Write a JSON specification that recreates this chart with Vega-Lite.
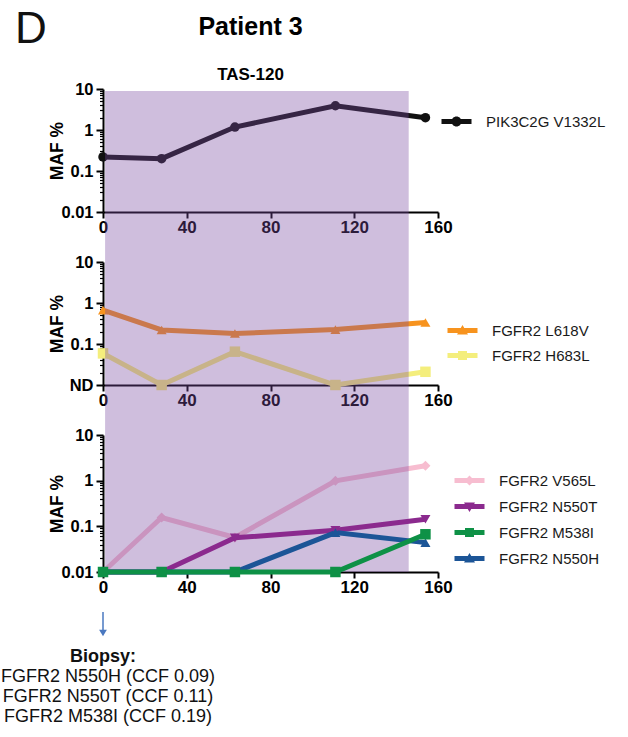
{
  "$schema": "https://vega.github.io/schema/vega-lite/v6.json",
  "padding": {"left": 0, "top": 8, "right": 5, "bottom": 5},
  "title": {"text": "D", "anchor": "start", "frame": "bounds", "fontSize": 44, "fontWeight": "normal", "font": "Liberation Sans", "color": "#111111", "offset": -37, "dx": 14},
  "datasets": {
    "muts": [
      {"panel": 1, "mutation": "PIK3C2G V1332L", "day": 0, "maf": 0.22},
      {"panel": 1, "mutation": "PIK3C2G V1332L", "day": 28, "maf": 0.2},
      {"panel": 1, "mutation": "PIK3C2G V1332L", "day": 63, "maf": 1.18},
      {"panel": 1, "mutation": "PIK3C2G V1332L", "day": 111, "maf": 3.9},
      {"panel": 1, "mutation": "PIK3C2G V1332L", "day": 154, "maf": 2.0},
      {"panel": 2, "mutation": "FGFR2 H683L", "day": 0, "maf": 0.059},
      {"panel": 2, "mutation": "FGFR2 H683L", "day": 28, "maf": 0.01},
      {"panel": 2, "mutation": "FGFR2 H683L", "day": 63, "maf": 0.065},
      {"panel": 2, "mutation": "FGFR2 H683L", "day": 111, "maf": 0.01},
      {"panel": 2, "mutation": "FGFR2 H683L", "day": 154, "maf": 0.021},
      {"panel": 2, "mutation": "FGFR2 L618V", "day": 0, "maf": 0.67},
      {"panel": 2, "mutation": "FGFR2 L618V", "day": 28, "maf": 0.22},
      {"panel": 2, "mutation": "FGFR2 L618V", "day": 63, "maf": 0.18},
      {"panel": 2, "mutation": "FGFR2 L618V", "day": 111, "maf": 0.225},
      {"panel": 2, "mutation": "FGFR2 L618V", "day": 154, "maf": 0.335},
      {"panel": 3, "mutation": "FGFR2 V565L", "day": 0, "maf": 0.01},
      {"panel": 3, "mutation": "FGFR2 V565L", "day": 28, "maf": 0.156},
      {"panel": 3, "mutation": "FGFR2 V565L", "day": 63, "maf": 0.057},
      {"panel": 3, "mutation": "FGFR2 V565L", "day": 111, "maf": 0.99},
      {"panel": 3, "mutation": "FGFR2 V565L", "day": 154, "maf": 2.12},
      {"panel": 3, "mutation": "FGFR2 N550T", "day": 0, "maf": 0.01},
      {"panel": 3, "mutation": "FGFR2 N550T", "day": 28, "maf": 0.01},
      {"panel": 3, "mutation": "FGFR2 N550T", "day": 63, "maf": 0.056},
      {"panel": 3, "mutation": "FGFR2 N550T", "day": 111, "maf": 0.082},
      {"panel": 3, "mutation": "FGFR2 N550T", "day": 154, "maf": 0.143},
      {"panel": 3, "mutation": "FGFR2 N550H", "day": 0, "maf": 0.01},
      {"panel": 3, "mutation": "FGFR2 N550H", "day": 28, "maf": 0.01},
      {"panel": 3, "mutation": "FGFR2 N550H", "day": 63, "maf": 0.01},
      {"panel": 3, "mutation": "FGFR2 N550H", "day": 111, "maf": 0.073},
      {"panel": 3, "mutation": "FGFR2 N550H", "day": 154, "maf": 0.044},
      {"panel": 3, "mutation": "FGFR2 M538I", "day": 0, "maf": 0.01},
      {"panel": 3, "mutation": "FGFR2 M538I", "day": 28, "maf": 0.01},
      {"panel": 3, "mutation": "FGFR2 M538I", "day": 63, "maf": 0.01},
      {"panel": 3, "mutation": "FGFR2 M538I", "day": 111, "maf": 0.01},
      {"panel": 3, "mutation": "FGFR2 M538I", "day": 154, "maf": 0.067}
    ],
    "band": [{"start": 1, "end": 146}],
    "biopsy": [{"day": 0}]
  },
  "spacing": 50,
  "bounds": "flush",
  "resolve": {
    "scale": {"color": "independent", "x": "independent", "y": "independent"},
    "legend": {"color": "independent"}
  },
  "vconcat": [
    {
      "width": 335, "height": 123,
      "title": {"text": "Patient 3", "subtitle": "TAS-120", "fontSize": 25, "font": "Liberation Sans", "fontWeight": "bold", "color": "#000000", "subtitleFont": "Liberation Sans", "subtitleFontSize": 17, "subtitleFontWeight": "bold", "subtitleColor": "#000000", "subtitlePadding": 27, "offset": -2, "anchor": "middle", "dx": -20},
      "layer": [
        {
          "data": {"name": "muts"}, "transform": [{"filter": "datum.panel == 1"}],
          "mark": {"type": "line", "strokeWidth": 5},
          "encoding": {
            "x": {"field": "day", "type": "quantitative", "scale": {"domain": [0, 160], "nice": false}, "axis": {"title": null, "values": [0, 40, 80, 120, 160]}},
            "y": {"field": "maf", "type": "quantitative", "scale": {"type": "log", "domain": [0.01, 10], "nice": false},
              "axis": {"title": "MAF %", "titleX": -46, "titleBaseline": "middle",
                "values": [0.01,0.02,0.03,0.04,0.05,0.06,0.07,0.08,0.09,0.1,0.2,0.3,0.4,0.5,0.6,0.7,0.8,0.9,1,2,3,4,5,6,7,8,9,10],
                "labelExpr": "datum.value == 10 ? '10' : datum.value == 1 ? '1' : datum.value == 0.1 ? '0.1' : datum.value == 0.01 ? '0.01' : ''",
                "labelOverlap": false, "labelBound": false,
                "tickSize": {"condition": {"test": "indexof([0.01,0.1,1,10], datum.value) >= 0", "value": 7}, "value": 3.5},
                "tickWidth": {"condition": {"test": "indexof([0.01,0.1,1,10], datum.value) >= 0", "value": 2}, "value": 1.2}}},
            "color": {"field": "mutation", "type": "nominal", "scale": {"domain": ["PIK3C2G V1332L"], "range": ["#111111"]},
              "legend": {"title": null, "orient": "none", "legendX": 346, "legendY": 25, "padding": 0, "labelFont": "Liberation Sans", "labelFontSize": 15, "labelColor": "#1a1a1a", "labelOffset": 22, "rowPadding": 9, "symbolSize": 100, "symbolStrokeWidth": 0,
                "encode": {"symbols": {"update": {
                  "shape": {"signal": "datum.value == 'PIK3C2G V1332L' ? 'M-3,-0.5H3V0.5H-3Z M-1,0A1,1 0 0,1 1,0A1,1 0 0,1 -1,0Z' : (datum.value == 'FGFR2 L618V' || datum.value == 'FGFR2 N550H') ? 'M-3,-0.5H3V0.5H-3Z M0,-1.1L1.1,0.8L-1.1,0.8Z' : (datum.value == 'FGFR2 H683L' || datum.value == 'FGFR2 M538I') ? 'M-3,-0.5H3V0.5H-3Z M-0.9,-0.9H0.9V0.9H-0.9Z' : datum.value == 'FGFR2 N550T' ? 'M-3,-0.5H3V0.5H-3Z M-1.1,-0.8L1.1,-0.8L0,1.1Z' : 'M-3,-0.5H3V0.5H-3Z M0,-1L1,0L0,1L-1,0Z'"},
                  "fill": {"signal": "datum.value == 'PIK3C2G V1332L' ? '#111111' : datum.value == 'FGFR2 L618V' ? '#f7931e' : datum.value == 'FGFR2 H683L' ? '#f4ee7c' : datum.value == 'FGFR2 V565L' ? '#f7bdd0' : datum.value == 'FGFR2 N550T' ? '#8b2a8e' : datum.value == 'FGFR2 M538I' ? '#0e9146' : '#1c5597'"},
                  "strokeWidth": {"value": 0}, "opacity": {"value": 1}, "size": {"value": 100}}}}}}
          }
        },
        {
          "data": {"name": "muts"}, "transform": [{"filter": "datum.panel == 1"}],
          "mark": {"type": "point", "shape": "circle", "filled": true, "size": 90, "opacity": 1, "strokeWidth": 0},
          "encoding": {
            "x": {"field": "day", "type": "quantitative", "scale": {"domain": [0, 160], "nice": false}},
            "y": {"field": "maf", "type": "quantitative", "scale": {"type": "log", "domain": [0.01, 10], "nice": false}},
            "color": {"field": "mutation", "type": "nominal", "scale": {"domain": ["PIK3C2G V1332L"], "range": ["#111111"]}, "legend": null}
          }
        },
        {
          "data": {"name": "band"},
          "mark": {"type": "rect", "color": "#7a4ba1", "opacity": 0.36},
          "encoding": {
            "x": {"field": "start", "type": "quantitative", "scale": {"domain": [0, 160], "nice": false}},
            "x2": {"field": "end"},
            "y": {"datum": 9, "type": "quantitative", "scale": {"type": "log", "domain": [0.01, 10], "nice": false}},
            "y2": {"datum": 0.0006033}
          }
        }
      ]
    },
    {
      "width": 335, "height": 123,
      "layer": [
        {
          "data": {"name": "muts"}, "transform": [{"filter": "datum.panel == 2"}],
          "mark": {"type": "line", "strokeWidth": 5},
          "encoding": {
            "x": {"field": "day", "type": "quantitative", "scale": {"domain": [0, 160], "nice": false}, "axis": {"title": null, "values": [0, 40, 80, 120, 160]}},
            "y": {"field": "maf", "type": "quantitative", "scale": {"type": "log", "domain": [0.01, 10], "nice": false},
              "axis": {"title": "MAF %", "titleX": -46, "titleBaseline": "middle",
                "values": [0.01,0.02,0.03,0.04,0.05,0.06,0.07,0.08,0.09,0.1,0.2,0.3,0.4,0.5,0.6,0.7,0.8,0.9,1,2,3,4,5,6,7,8,9,10],
                "labelExpr": "datum.value == 10 ? '10' : datum.value == 1 ? '1' : datum.value == 0.1 ? '0.1' : datum.value == 0.01 ? 'ND' : ''",
                "labelOverlap": false, "labelBound": false,
                "tickSize": {"condition": {"test": "indexof([0.01,0.1,1,10], datum.value) >= 0", "value": 7}, "value": 3.5},
                "tickWidth": {"condition": {"test": "indexof([0.01,0.1,1,10], datum.value) >= 0", "value": 2}, "value": 1.2}}},
            "color": {"field": "mutation", "type": "nominal", "scale": {"domain": ["FGFR2 L618V", "FGFR2 H683L"], "range": ["#f7931e", "#f4ee7c"]},
              "legend": {"title": null, "orient": "none", "legendX": 352, "legendY": 61, "padding": 0, "labelFont": "Liberation Sans", "labelFontSize": 15, "labelColor": "#1a1a1a", "labelOffset": 22, "rowPadding": 9, "symbolSize": 100, "symbolStrokeWidth": 0,
                "encode": {"symbols": {"update": {
                  "shape": {"signal": "datum.value == 'PIK3C2G V1332L' ? 'M-3,-0.5H3V0.5H-3Z M-1,0A1,1 0 0,1 1,0A1,1 0 0,1 -1,0Z' : (datum.value == 'FGFR2 L618V' || datum.value == 'FGFR2 N550H') ? 'M-3,-0.5H3V0.5H-3Z M0,-1.1L1.1,0.8L-1.1,0.8Z' : (datum.value == 'FGFR2 H683L' || datum.value == 'FGFR2 M538I') ? 'M-3,-0.5H3V0.5H-3Z M-0.9,-0.9H0.9V0.9H-0.9Z' : datum.value == 'FGFR2 N550T' ? 'M-3,-0.5H3V0.5H-3Z M-1.1,-0.8L1.1,-0.8L0,1.1Z' : 'M-3,-0.5H3V0.5H-3Z M0,-1L1,0L0,1L-1,0Z'"},
                  "fill": {"signal": "datum.value == 'PIK3C2G V1332L' ? '#111111' : datum.value == 'FGFR2 L618V' ? '#f7931e' : datum.value == 'FGFR2 H683L' ? '#f4ee7c' : datum.value == 'FGFR2 V565L' ? '#f7bdd0' : datum.value == 'FGFR2 N550T' ? '#8b2a8e' : datum.value == 'FGFR2 M538I' ? '#0e9146' : '#1c5597'"},
                  "strokeWidth": {"value": 0}, "opacity": {"value": 1}, "size": {"value": 100}}}}}}
          }
        },
        {
          "data": {"name": "muts"}, "transform": [{"filter": "datum.mutation == 'FGFR2 L618V'"}],
          "mark": {"type": "point", "shape": "triangle-up", "filled": true, "size": 100, "opacity": 1, "strokeWidth": 0},
          "encoding": {
            "x": {"field": "day", "type": "quantitative", "scale": {"domain": [0, 160], "nice": false}},
            "y": {"field": "maf", "type": "quantitative", "scale": {"type": "log", "domain": [0.01, 10], "nice": false}},
            "color": {"field": "mutation", "type": "nominal", "scale": {"domain": ["FGFR2 L618V", "FGFR2 H683L"], "range": ["#f7931e", "#f4ee7c"]}, "legend": null}
          }
        },
        {
          "data": {"name": "muts"}, "transform": [{"filter": "datum.mutation == 'FGFR2 H683L'"}],
          "mark": {"type": "point", "shape": "square", "filled": true, "size": 110, "opacity": 1, "strokeWidth": 0},
          "encoding": {
            "x": {"field": "day", "type": "quantitative", "scale": {"domain": [0, 160], "nice": false}},
            "y": {"field": "maf", "type": "quantitative", "scale": {"type": "log", "domain": [0.01, 10], "nice": false}},
            "color": {"field": "mutation", "type": "nominal", "scale": {"domain": ["FGFR2 L618V", "FGFR2 H683L"], "range": ["#f7931e", "#f4ee7c"]}, "legend": null}
          }
        },
        {
          "data": {"name": "band"},
          "mark": {"type": "rect", "color": "#7a4ba1", "opacity": 0.36},
          "encoding": {
            "x": {"field": "start", "type": "quantitative", "scale": {"domain": [0, 160], "nice": false}},
            "x2": {"field": "end"},
            "y": {"datum": 10, "type": "quantitative", "scale": {"type": "log", "domain": [0.01, 10], "nice": false}},
            "y2": {"datum": 0.0006033}
          }
        }
      ]
    },
    {
      "width": 335, "height": 137,
      "layer": [
        {
          "data": {"name": "muts"}, "transform": [{"filter": "datum.mutation == 'FGFR2 V565L'"}],
          "mark": {"type": "line", "strokeWidth": 5},
          "encoding": {
            "x": {"field": "day", "type": "quantitative", "scale": {"domain": [0, 160], "nice": false}, "axis": {"title": null, "values": [0, 40, 80, 120, 160]}},
            "y": {"field": "maf", "type": "quantitative", "scale": {"type": "log", "domain": [0.01, 10], "nice": false},
              "axis": {"title": "MAF %", "titleX": -46, "titleBaseline": "middle",
                "values": [0.01,0.02,0.03,0.04,0.05,0.06,0.07,0.08,0.09,0.1,0.2,0.3,0.4,0.5,0.6,0.7,0.8,0.9,1,2,3,4,5,6,7,8,9,10],
                "labelExpr": "datum.value == 10 ? '10' : datum.value == 1 ? '1' : datum.value == 0.1 ? '0.1' : datum.value == 0.01 ? '0.01' : ''",
                "labelOverlap": false, "labelBound": false,
                "tickSize": {"condition": {"test": "indexof([0.01,0.1,1,10], datum.value) >= 0", "value": 7}, "value": 3.5},
                "tickWidth": {"condition": {"test": "indexof([0.01,0.1,1,10], datum.value) >= 0", "value": 2}, "value": 1.2}}},
            "color": {"field": "mutation", "type": "nominal", "scale": {"domain": ["FGFR2 V565L", "FGFR2 N550T", "FGFR2 M538I", "FGFR2 N550H"], "range": ["#f7bdd0", "#8b2a8e", "#0e9146", "#1c5597"]},
              "legend": {"title": null, "orient": "none", "legendX": 359, "legendY": 38, "padding": 0, "labelFont": "Liberation Sans", "labelFontSize": 15, "labelColor": "#1a1a1a", "labelOffset": 22, "rowPadding": 10, "symbolSize": 100, "symbolStrokeWidth": 0,
                "encode": {"symbols": {"update": {
                  "shape": {"signal": "datum.value == 'PIK3C2G V1332L' ? 'M-3,-0.5H3V0.5H-3Z M-1,0A1,1 0 0,1 1,0A1,1 0 0,1 -1,0Z' : (datum.value == 'FGFR2 L618V' || datum.value == 'FGFR2 N550H') ? 'M-3,-0.5H3V0.5H-3Z M0,-1.1L1.1,0.8L-1.1,0.8Z' : (datum.value == 'FGFR2 H683L' || datum.value == 'FGFR2 M538I') ? 'M-3,-0.5H3V0.5H-3Z M-0.9,-0.9H0.9V0.9H-0.9Z' : datum.value == 'FGFR2 N550T' ? 'M-3,-0.5H3V0.5H-3Z M-1.1,-0.8L1.1,-0.8L0,1.1Z' : 'M-3,-0.5H3V0.5H-3Z M0,-1L1,0L0,1L-1,0Z'"},
                  "fill": {"signal": "datum.value == 'PIK3C2G V1332L' ? '#111111' : datum.value == 'FGFR2 L618V' ? '#f7931e' : datum.value == 'FGFR2 H683L' ? '#f4ee7c' : datum.value == 'FGFR2 V565L' ? '#f7bdd0' : datum.value == 'FGFR2 N550T' ? '#8b2a8e' : datum.value == 'FGFR2 M538I' ? '#0e9146' : '#1c5597'"},
                  "strokeWidth": {"value": 0}, "opacity": {"value": 1}, "size": {"value": 100}}}}}}
          }
        },
        {
          "data": {"name": "muts"}, "transform": [{"filter": "datum.mutation == 'FGFR2 V565L'"}],
          "mark": {"type": "point", "shape": "diamond", "filled": true, "size": 100, "opacity": 1, "strokeWidth": 0},
          "encoding": {
            "x": {"field": "day", "type": "quantitative", "scale": {"domain": [0, 160], "nice": false}},
            "y": {"field": "maf", "type": "quantitative", "scale": {"type": "log", "domain": [0.01, 10], "nice": false}},
            "color": {"field": "mutation", "type": "nominal", "scale": {"domain": ["FGFR2 V565L", "FGFR2 N550T", "FGFR2 M538I", "FGFR2 N550H"], "range": ["#f7bdd0", "#8b2a8e", "#0e9146", "#1c5597"]}, "legend": null}
          }
        },
        {
          "data": {"name": "band"},
          "mark": {"type": "rect", "color": "#7a4ba1", "opacity": 0.36},
          "encoding": {
            "x": {"field": "start", "type": "quantitative", "scale": {"domain": [0, 160], "nice": false}},
            "x2": {"field": "end"},
            "y": {"datum": 10, "type": "quantitative", "scale": {"type": "log", "domain": [0.01, 10], "nice": false}},
            "y2": {"datum": 0.01}
          }
        },
        {
          "data": {"name": "muts"}, "transform": [{"filter": "datum.panel == 3 && datum.mutation != 'FGFR2 V565L'"}],
          "mark": {"type": "line", "strokeWidth": 5},
          "encoding": {
            "x": {"field": "day", "type": "quantitative", "scale": {"domain": [0, 160], "nice": false}},
            "y": {"field": "maf", "type": "quantitative", "scale": {"type": "log", "domain": [0.01, 10], "nice": false}},
            "color": {"field": "mutation", "type": "nominal", "scale": {"domain": ["FGFR2 V565L", "FGFR2 N550T", "FGFR2 M538I", "FGFR2 N550H"], "range": ["#f7bdd0", "#8b2a8e", "#0e9146", "#1c5597"]}, "legend": null}
          }
        },
        {
          "data": {"name": "muts"}, "transform": [{"filter": "datum.mutation == 'FGFR2 N550T'"}],
          "mark": {"type": "point", "shape": "triangle-down", "filled": true, "size": 100, "opacity": 1, "strokeWidth": 0},
          "encoding": {
            "x": {"field": "day", "type": "quantitative", "scale": {"domain": [0, 160], "nice": false}},
            "y": {"field": "maf", "type": "quantitative", "scale": {"type": "log", "domain": [0.01, 10], "nice": false}},
            "color": {"field": "mutation", "type": "nominal", "scale": {"domain": ["FGFR2 V565L", "FGFR2 N550T", "FGFR2 M538I", "FGFR2 N550H"], "range": ["#f7bdd0", "#8b2a8e", "#0e9146", "#1c5597"]}, "legend": null}
          }
        },
        {
          "data": {"name": "muts"}, "transform": [{"filter": "datum.mutation == 'FGFR2 N550H'"}],
          "mark": {"type": "point", "shape": "triangle-up", "filled": true, "size": 100, "opacity": 1, "strokeWidth": 0},
          "encoding": {
            "x": {"field": "day", "type": "quantitative", "scale": {"domain": [0, 160], "nice": false}},
            "y": {"field": "maf", "type": "quantitative", "scale": {"type": "log", "domain": [0.01, 10], "nice": false}},
            "color": {"field": "mutation", "type": "nominal", "scale": {"domain": ["FGFR2 V565L", "FGFR2 N550T", "FGFR2 M538I", "FGFR2 N550H"], "range": ["#f7bdd0", "#8b2a8e", "#0e9146", "#1c5597"]}, "legend": null}
          }
        },
        {
          "data": {"name": "muts"}, "transform": [{"filter": "datum.mutation == 'FGFR2 M538I'"}],
          "mark": {"type": "point", "shape": "square", "filled": true, "size": 110, "opacity": 1, "strokeWidth": 0},
          "encoding": {
            "x": {"field": "day", "type": "quantitative", "scale": {"domain": [0, 160], "nice": false}},
            "y": {"field": "maf", "type": "quantitative", "scale": {"type": "log", "domain": [0.01, 10], "nice": false}},
            "color": {"field": "mutation", "type": "nominal", "scale": {"domain": ["FGFR2 V565L", "FGFR2 N550T", "FGFR2 M538I", "FGFR2 N550H"], "range": ["#f7bdd0", "#8b2a8e", "#0e9146", "#1c5597"]}, "legend": null}
          }
        },
        {
          "data": {"name": "biopsy"},
          "mark": {"type": "rule", "color": "#4a78c0", "strokeWidth": 1.5, "yOffset": 40, "y2Offset": 58},
          "encoding": {
            "x": {"field": "day", "type": "quantitative", "scale": {"domain": [0, 160], "nice": false}},
            "y": {"datum": 0.01, "type": "quantitative", "scale": {"type": "log", "domain": [0.01, 10], "nice": false}},
            "y2": {"datum": 0.01}
          }
        },
        {
          "data": {"name": "biopsy"},
          "mark": {"type": "point", "shape": "triangle-down", "filled": true, "size": 60, "opacity": 1, "strokeWidth": 0, "color": "#4a78c0", "yOffset": 61},
          "encoding": {
            "x": {"field": "day", "type": "quantitative", "scale": {"domain": [0, 160], "nice": false}},
            "y": {"datum": 0.01, "type": "quantitative", "scale": {"type": "log", "domain": [0.01, 10], "nice": false}}
          }
        },
        {
          "data": {"name": "biopsy"},
          "mark": {"type": "text", "text": "Biopsy:", "font": "Liberation Sans", "fontSize": 18, "fontWeight": "bold", "baseline": "alphabetic", "align": "center", "dy": 90, "color": "#111111"},
          "encoding": {
            "x": {"field": "day", "type": "quantitative", "scale": {"domain": [0, 160], "nice": false}},
            "y": {"datum": 0.01, "type": "quantitative", "scale": {"type": "log", "domain": [0.01, 10], "nice": false}}
          }
        },
        {
          "data": {"name": "biopsy"},
          "mark": {"type": "text", "text": ["FGFR2 N550H (CCF 0.09)", "FGFR2 N550T (CCF 0.11)", "FGFR2 M538I (CCF 0.19)"], "lineHeight": 20, "font": "Liberation Sans", "fontSize": 18, "baseline": "alphabetic", "align": "center", "dy": 110, "dx": 5, "color": "#111111"},
          "encoding": {
            "x": {"field": "day", "type": "quantitative", "scale": {"domain": [0, 160], "nice": false}},
            "y": {"datum": 0.01, "type": "quantitative", "scale": {"type": "log", "domain": [0.01, 10], "nice": false}}
          }
        }
      ]
    }
  ],
  "config": {
    "view": {"stroke": null},
    "font": "Liberation Sans",
    "axis": {"grid": false, "domainColor": "#000000", "domainWidth": 2, "tickColor": "#000000", "tickWidth": 2, "labelColor": "#000000", "labelFontWeight": "bold", "labelFont": "Liberation Sans", "titleFont": "Liberation Sans", "titleFontWeight": "bold", "titleColor": "#000000"},
    "axisX": {"labelFontSize": 17, "tickSize": 6, "labelPadding": 1, "labelFlush": false},
    "axisY": {"labelFontSize": 16.5, "titleFontSize": 17.5, "labelPadding": 3}
  }
}
